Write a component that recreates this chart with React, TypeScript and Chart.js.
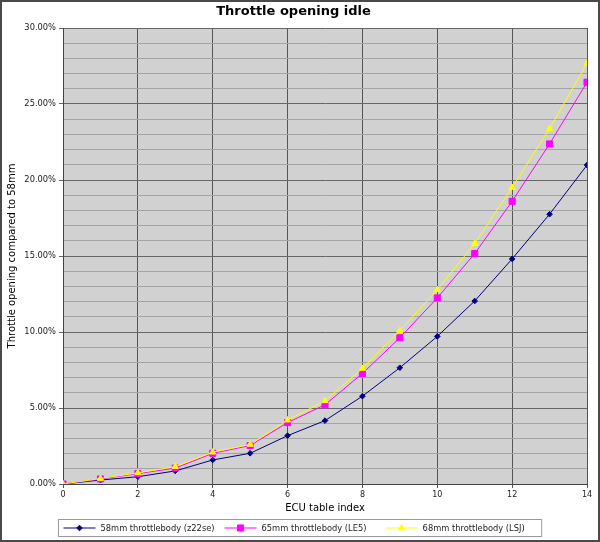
import React, { useEffect, useRef } from "react";
import { Chart, registerables } from "chart.js";

Chart.register(...registerables);

const tableIndex = [0, 1, 2, 3, 4, 5, 6, 7, 8, 9, 10, 11, 12, 13, 14];
const tb58 = [0, 0.26, 0.48, 0.86, 1.58, 2.02, 3.18, 4.17, 5.78, 7.65, 9.71, 12.04, 14.81, 17.75, 20.98];
const tb65 = [0, 0.33, 0.68, 1.05, 2.02, 2.53, 4.04, 5.21, 7.27, 9.62, 12.24, 15.16, 18.6, 22.37, 26.43];
const tb68 = [0, 0.36, 0.73, 1.14, 2.09, 2.6, 4.2, 5.47, 7.6, 10.09, 12.77, 15.82, 19.5, 23.38, 27.67];
const seriesLabels = [
  "58mm throttlebody (z22se)",
  "65mm throttlebody (LE5)",
  "68mm throttlebody (LSJ)",
];
const seriesColors = ["#000080", "#ff00ff", "#ffff00"];
const seriesPoints = ["rectRot", "rect", "triangle"];
const seriesRadius = [2.8, 4.3, 3.6];

const FONT = "'DejaVu Sans', sans-serif";

function drawMarker(ctx: CanvasRenderingContext2D, style: string, x: number, y: number, r: number, color: string) {
  ctx.save();
  ctx.fillStyle = color;
  ctx.strokeStyle = color;
  ctx.lineWidth = 1;
  ctx.beginPath();
  if (style === "rectRot") {
    ctx.moveTo(x - r, y);
    ctx.lineTo(x, y - r);
    ctx.lineTo(x + r, y);
    ctx.lineTo(x, y + r);
    ctx.closePath();
  } else if (style === "rect") {
    const s = r * Math.SQRT1_2;
    ctx.rect(x - s, y - s, 2 * s, 2 * s);
  } else {
    const h = (r * 3) / Math.sqrt(3) / 2;
    ctx.moveTo(x - h, y + r / 2);
    ctx.lineTo(x + h, y + r / 2);
    ctx.lineTo(x, y - r);
    ctx.closePath();
  }
  ctx.fill();
  ctx.stroke();
  ctx.restore();
}

const framePlugin = {
  id: "frame",
  beforeDraw(chart: any) {
    const ctx = chart.ctx;
    ctx.save();
    ctx.fillStyle = "#ffffff";
    ctx.fillRect(0, 0, chart.width, chart.height);
    const a = chart.chartArea;
    ctx.fillStyle = "#d1d1d1";
    ctx.fillRect(a.left, a.top, a.right - a.left, a.bottom - a.top);
    ctx.restore();
  },
  afterDraw(chart: any) {
    const ctx = chart.ctx;
    ctx.save();
    ctx.strokeStyle = "#4a4a4a";
    ctx.lineWidth = 2;
    ctx.strokeRect(1, 1, chart.width - 2, chart.height - 2);

    // legend (equal-width columns)
    ctx.font = `8.3px ${FONT}`;
    ctx.textBaseline = "middle";
    const lineLen = 32;
    const gapText = 5;
    const padX = 5;
    const widths = seriesLabels.map((l) => ctx.measureText(l).width);
    const colW = Math.max(...widths) + lineLen + gapText + padX * 2;
    const total = colW * seriesLabels.length;
    const boxLeft = Math.round(chart.width / 2 - total / 2) + 0.5;
    const boxTop = 519.5;
    const boxH = 17;
    ctx.strokeStyle = "#9a9a9a";
    ctx.lineWidth = 1;
    ctx.strokeRect(boxLeft, boxTop, total, boxH);
    const cy = boxTop + boxH / 2;
    seriesLabels.forEach((label, i) => {
      const x = boxLeft + padX + i * colW;
      ctx.strokeStyle = seriesColors[i];
      ctx.lineWidth = 1;
      ctx.beginPath();
      ctx.moveTo(x, cy);
      ctx.lineTo(x + lineLen, cy);
      ctx.stroke();
      drawMarker(ctx, seriesPoints[i], x + lineLen / 2, cy, seriesRadius[i], seriesColors[i]);
      ctx.fillStyle = "#222222";
      ctx.fillText(label, x + lineLen + gapText, cy + 0.5);
    });
    ctx.restore();
  },
};

export default function App() {
  const canvasRef = useRef<HTMLCanvasElement | null>(null);

  useEffect(() => {
    document.body.style.margin = "0";
    const canvas = canvasRef.current;
    if (!canvas) return;
    const seriesData = [tb58, tb65, tb68];
    const chart = new Chart(canvas, {
      type: "line",
      data: {
        datasets: seriesData.map((vals, i) => ({
          label: seriesLabels[i],
          data: tableIndex.map((x, j) => ({ x, y: vals[j] })),
          borderColor: seriesColors[i],
          backgroundColor: seriesColors[i],
          borderWidth: 1,
          pointStyle: seriesPoints[i] as any,
          pointRadius: seriesRadius[i],
          pointBorderWidth: 1,
          pointBorderColor: seriesColors[i],
          pointBackgroundColor: seriesColors[i],
          tension: 0,
          fill: false,
          order: 2 - i,
        })),
      },
      options: {
        animation: false,
        responsive: false,
        maintainAspectRatio: false,
        devicePixelRatio: 1,
        layout: { padding: { left: 0, right: 13, top: 0, bottom: 26 } },
        plugins: {
          legend: { display: false },
          tooltip: { enabled: false },
          title: {
            display: true,
            text: "Throttle opening idle",
            color: "#000000",
            font: { family: FONT, size: 13, weight: "bold" },
            padding: { top: 4, bottom: 8.4 },
          },
        },
        scales: {
          x: {
            type: "linear",
            min: 0,
            max: 14,
            ticks: {
              stepSize: 2,
              color: "#222222",
              font: { family: FONT, size: 8 },
              padding: 2,
              maxRotation: 0,
            },
            grid: { color: "#555555", tickLength: 4, lineWidth: 1 },
            border: { display: true, color: "#444444" },
            title: {
              display: true,
              text: "ECU table index",
              color: "#000000",
              font: { family: FONT, size: 10 },
              padding: { top: 0, bottom: 2 },
            },
            afterFit(scale: any) {
              scale.height = 32;
            },
          },
          y: {
            type: "linear",
            min: 0,
            max: 30,
            ticks: {
              stepSize: 1,
              autoSkip: false,
              color: "#222222",
              font: { family: FONT, size: 8.3 },
              padding: 3,
              callback: (v: any) => (Number(v) % 5 === 0 ? Number(v).toFixed(2) + "%" : ""),
            },
            grid: {
              color: (c: any) => (c.tick && c.tick.value % 5 === 0 ? "#666666" : "#a4a4a4"),
              tickColor: (c: any) => (c.tick && c.tick.value % 5 === 0 ? "#666666" : "rgba(0,0,0,0)"),
              tickLength: 4,
              lineWidth: 1,
            },
            border: { display: true, color: "#444444" },
            title: {
              display: true,
              text: "Throttle opening compared to 58mm",
              color: "#000000",
              font: { family: FONT, size: 10 },
              padding: { top: 6, bottom: 0 },
            },
            afterFit(scale: any) {
              scale.width = 63;
            },
          },
        },
      },
      plugins: [framePlugin],
    });
    return () => chart.destroy();
  }, []);

  return <canvas ref={canvasRef} width={600} height={542} style={{ display: "block" }} />;
}
